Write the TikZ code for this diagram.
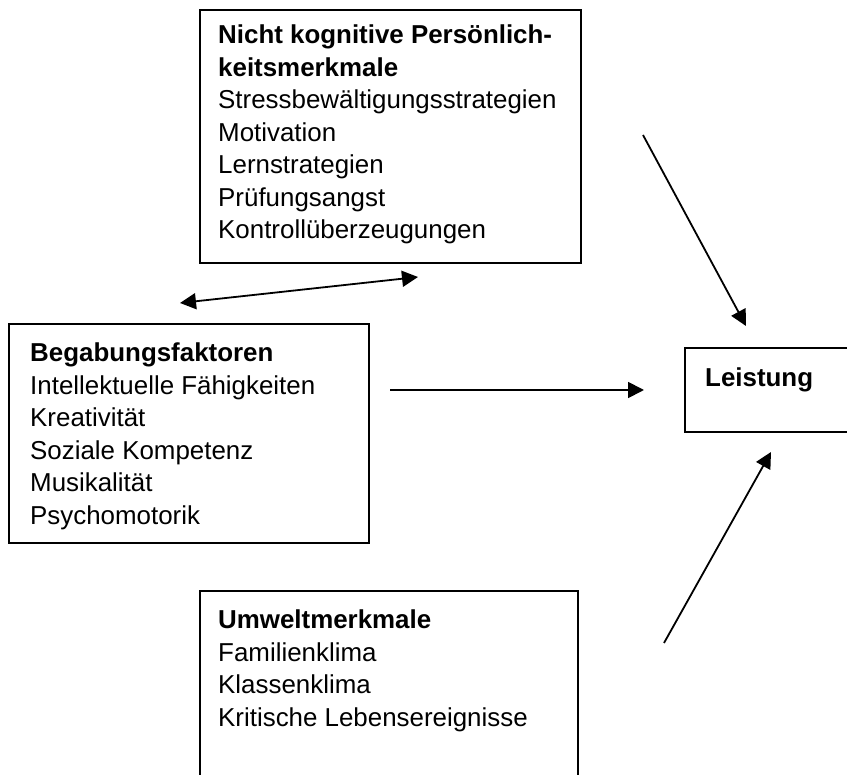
\documentclass[tikz,border=0pt]{standalone}
\usepackage{fontspec}
\setmainfont{Liberation Sans}
\usetikzlibrary{arrows.meta}
\begin{document}
\begin{tikzpicture}[x=1pt,y=1pt,
  boxframe/.style={draw=black,line width=2pt,fill=none},
  boxtext/.style={anchor=north west,inner sep=0pt,align=left,
    font=\fontsize{25.9}{32.5}\selectfont},
  tipshape/.style={},
  conn/.style={line width=1.8pt,-{Triangle[length=16pt,width=16pt]}},
  dconn/.style={line width=1.8pt,{Triangle[length=16pt,width=16pt]}-{Triangle[length=16pt,width=16pt]}}]
\useasboundingbox (0,0) rectangle (847,-775);
\clip (0,0) rectangle (847,-775);
% boxes
\draw[boxframe] (200,-10) rectangle (581,-263);
\draw[boxframe] (9,-324) rectangle (369,-543);
\draw[boxframe] (685,-348) rectangle (860,-432);
\draw[boxframe] (200,-591) rectangle (578,-790);
% texts
\node[boxtext] (nk) at (218,-25) {\textbf{Nicht kognitive Persönlich-}\\\textbf{keitsmerkmale}\\Stressbewältigungsstrategien\\Motivation\\Lernstrategien\\Prüfungsangst\\Kontrollüberzeugungen};
\node[boxtext] (bg) at (30,-343) {\textbf{Begabungsfaktoren}\\Intellektuelle Fähigkeiten\\Kreativität\\Soziale Kompetenz\\Musikalität\\Psychomotorik};
\node[boxtext] (ls) at (705,-368) {\textbf{Leistung}};
\node[boxtext] (um) at (218,-610) {\textbf{Umweltmerkmale}\\Familienklima\\Klassenklima\\Kritische Lebensereignisse};
% connector ends
\coordinate (d1) at (180,-303);
\coordinate (d2) at (418,-277);
\coordinate (h1) at (390,-390);
\coordinate (h2) at (644,-390);
\coordinate (t1) at (643,-135);
\coordinate (t2) at (746,-326);
\coordinate (b1) at (664,-643);
\coordinate (b2) at (771,-452);
\draw[dconn] (d1) -- (d2);
\draw[conn] (h1) -- (h2);
\draw[conn] (t1) -- (t2);
\draw[conn] (b1) -- (b2);
\end{tikzpicture}
\end{document}
